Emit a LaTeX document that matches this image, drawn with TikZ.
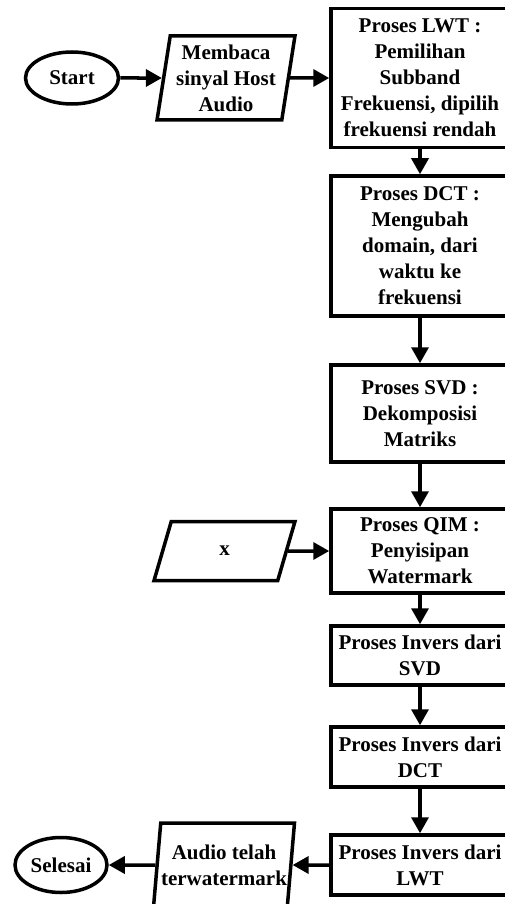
\documentclass[tikz,border=0pt]{standalone}
\usepackage{fontspec}
\setmainfont{Liberation Serif}
\usetikzlibrary{arrows.meta,positioning,shapes.geometric}

\begin{document}
\begin{tikzpicture}[
  x=1pt,y=-1pt,
  every node/.style={font=\fontsize{21}{26}\selectfont\bfseries},
  procbox/.style={draw,line width=3.5pt,minimum width=178pt,inner sep=0pt,align=center},
  iobox/.style={draw,line width=3.5pt,trapezium,trapezium left angle=80,trapezium right angle=100,
                trapezium stretches=true,minimum width=138pt,minimum height=84pt,inner sep=0pt,align=center},
  termbox/.style={draw,line width=3.5pt,ellipse,inner sep=0pt,align=center},
  arr/.style={-{Triangle[length=16pt,width=17pt]},line width=3.5pt},
]
  \useasboundingbox (0,0) rectangle (504,904);

  % Start and input
  \node[termbox,minimum width=93pt,minimum height=52pt] (start) at (72,78) {Start};
  \node[iobox] (baca) at (226,78) {Membaca\\sinyal Host\\Audio};

  % Embedding steps
  \node[procbox,minimum height=139pt] (lwt) at (420,78)
    {Proses LWT :\\Pemilihan\\Subband\\Frekuensi, dipilih\\frekuensi rendah};
  \node[procbox,minimum height=140pt] (dct) at (420,246)
    {Proses DCT :\\Mengubah\\domain, dari\\waktu ke\\frekuensi};
  \node[procbox,minimum height=97pt] (svd) at (420,413.5)
    {Proses SVD :\\Dekomposisi\\Matriks};
  \node[procbox,minimum height=84pt] (qim) at (420,551)
    {Proses QIM :\\Penyisipan\\Watermark};

  % Watermark input
  \node[iobox,minimum width=141pt,minimum height=59pt] (wm) at (224.5,551) {x};

  % Inverse steps
  \node[procbox,minimum height=59pt] (isvd) at (420,655.5) {Proses Invers dari\\SVD};
  \node[procbox,minimum height=60pt] (idct) at (420,757) {Proses Invers dari\\DCT};
  \node[procbox,minimum height=60pt] (ilwt) at (420,865) {Proses Invers dari\\LWT};

  % Output and end
  \node[iobox,minimum width=141pt] (hasil) at (224,865) {Audio telah\\terwatermark};
  \node[termbox,minimum width=92pt,minimum height=55pt] (selesai) at (61,865) {Selesai};

  % Arrows
  \draw[arr] (start) -- (baca);
  \draw[arr] (baca) -- (lwt);
  \draw[arr] (lwt) -- (dct);
  \draw[arr] (dct) -- (svd);
  \draw[arr] (svd) -- (qim);
  \draw[arr] (wm) -- (qim);
  \draw[arr] (qim) -- (isvd);
  \draw[arr] (isvd) -- (idct);
  \draw[arr] (idct) -- (ilwt);
  \draw[arr] (ilwt) -- (hasil);
  \draw[arr] (hasil) -- (selesai);
\end{tikzpicture}
\end{document}
